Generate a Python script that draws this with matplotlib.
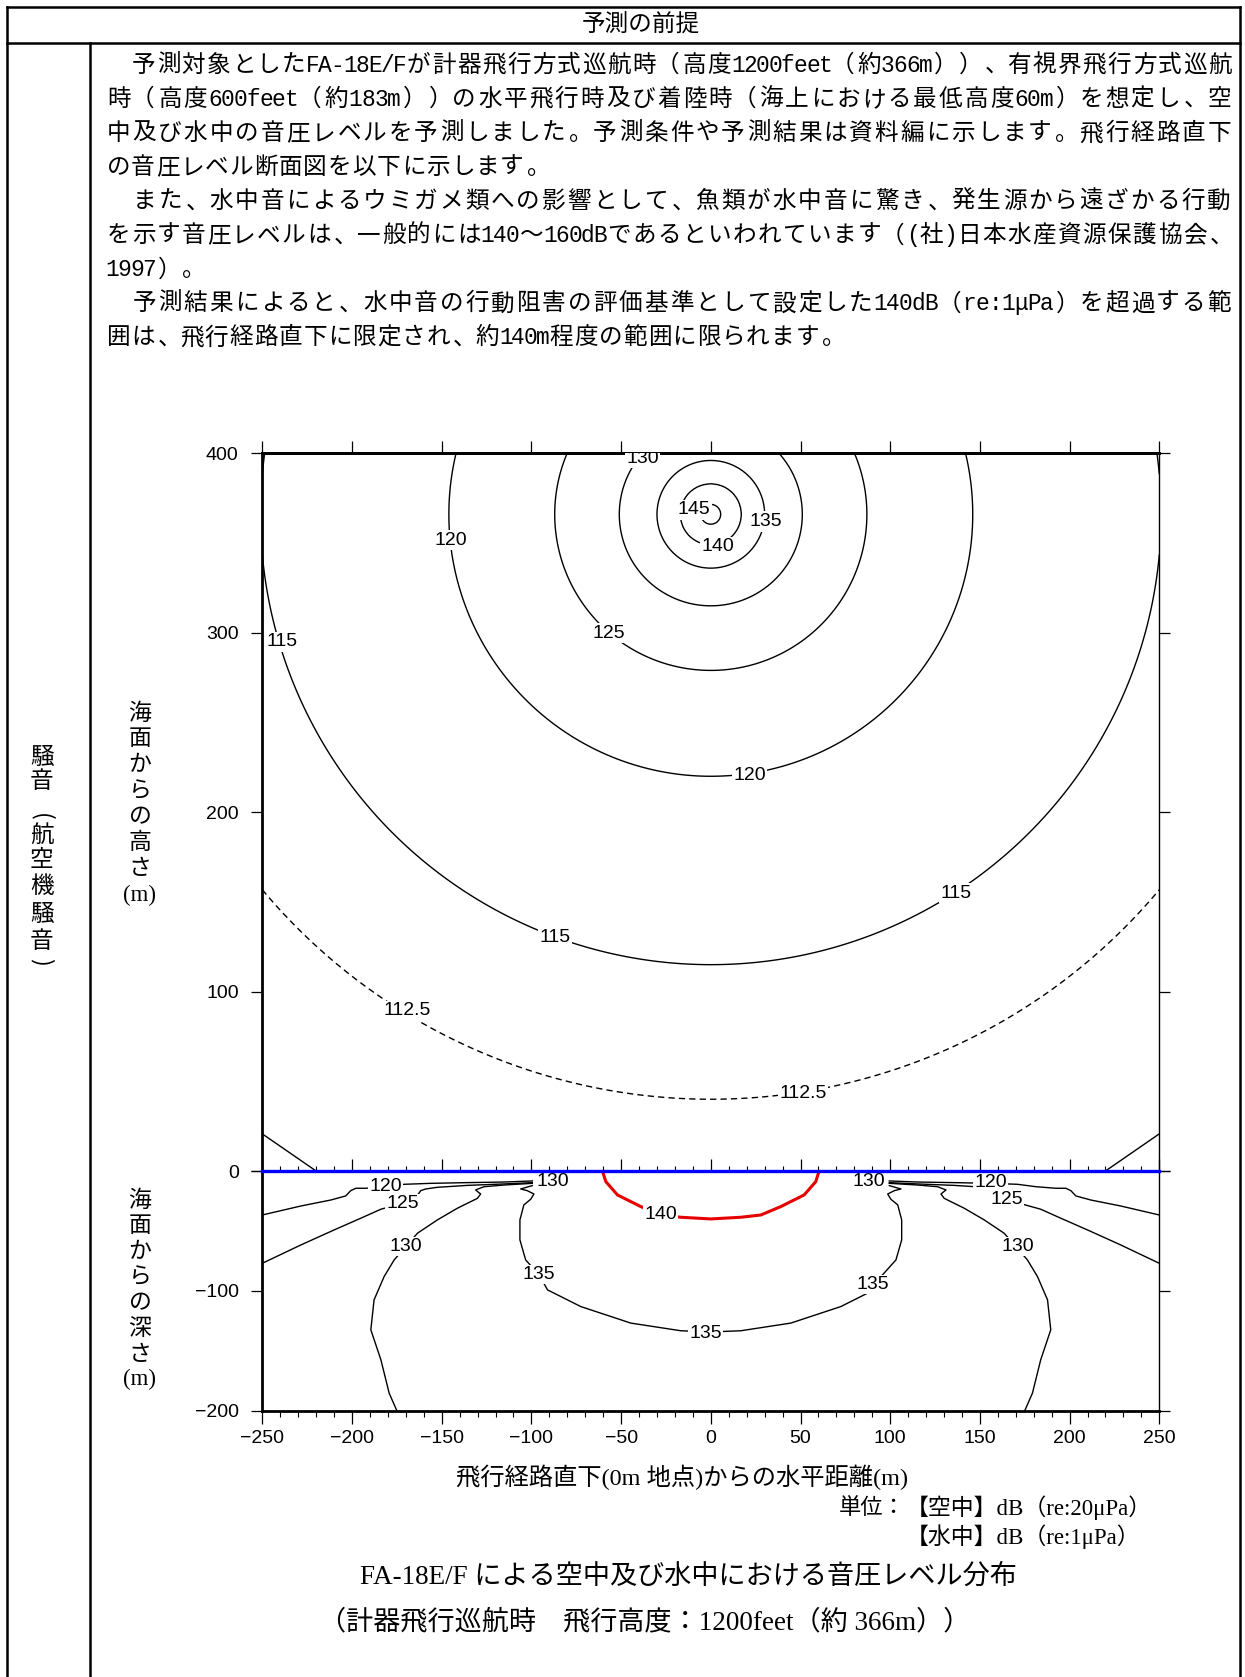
import numpy as np
import matplotlib
matplotlib.use("Agg")
import matplotlib.pyplot as plt
from matplotlib.lines import Line2D
from matplotlib.ticker import MultipleLocator

plt.rcParams['font.family'] = ['Noto Sans CJK JP', 'DejaVu Sans']
plt.rcParams['axes.unicode_minus'] = True

# ---------------- data ----------------
# Air: contour levels (dB re 20uPa) and radius (m) of each circle around the aircraft
air_levels = [112.5, 115, 120, 125, 130, 135, 140, 145]
air_radii = [326, 251, 146, 87, 51, 30, 17, 5.5]
source_x = 0
source_h = 366

air_lab_text = ['130', '145', '135', '140', '125', '120', '120', '115', '115', '115', '112.5', '112.5']
air_lab_x = [-38.1, -9.3, 30.7, 3.7, -56.7, -144.8, 21.6, -238.9, -87.0, 136.7, -169.2, 51.4]
air_lab_y = [397.3, 368.4, 362.0, 348.0, 299.7, 351.6, 220.5, 295.0, 129.9, 154.9, 89.3, 43.4]

# near-surface contour piece in the lower corners of the air section (left half)
air_corner_x = [-250, -220]
air_corner_y = [20.7, 0]

# Water: contour paths (dB re 1uPa), left half; the right half is the mirror image
w120_x = [-250, -228.5, -211.8, -203.5, -200.7, -197.9, -192.3, -181.2, -171.0, -156.1, -135.7, -115.3, -99.5]
w120_y = [-36.7, -29.2, -24.2, -20.8, -16.4, -14.4, -14.4, -13.1, -11.1, -10.3, -9.7, -9.2, -8.3]
w125_x = [-250, -228.5, -210.0, -195.1, -183.9, -171.9, -163.0, -161.7, -158.9, -152.4, -135.7, -115.3, -99.5]
w125_y = [-77.0, -61.7, -49.2, -39.4, -31.9, -26.9, -19.2, -16.4, -15.0, -13.6, -12.0, -10.8, -9.7]
w130_x = [-175.0, -179.3, -183.9, -189.5, -187.7, -182.1, -176.5, -170.0, -163.5, -152.4, -141.3,
          -130.1, -128.3, -131.1, -126.4, -115.3, -99.5]
w130_y = [-200, -185.3, -157.5, -132.5, -107.5, -88.1, -74.2, -63.0, -51.9, -40.8, -31.1,
          -22.8, -19.2, -15.8, -13.1, -11.7, -10.3]
w135_x = [-99.5, -106.0, -102.3, -98.6, -100.4, -104.2, -106.4, -106.4, -103.2, -95.7, -91.0,
          -72.5, -44.6, -16.7, 0]
w135_y = [-12.2, -15.0, -16.4, -19.2, -23.6, -28.3, -40.8, -57.5, -74.2, -86.7, -99.2,
          -113.1, -126.9, -133.3, -134.3]
w140_x = [-60.4, -58.5, -52.0, -39.0, -27.9, -16.7, 0]
w140_y = [0, -8.9, -20.0, -29.7, -36.7, -38.6, -40.0]

water_lab_text = ['120', '125', '130', '130', '135', '140', '135', '130', '120', '125', '130', '135']
water_lab_x = [-181.2, -171.9, -170.0, -88.3, -95.7, -27.9, -3.0, 88.2, 156.0, 165.0, 171.0, 90.1]
water_lab_y = [-13.1, -26.9, -63.0, -8.9, -86.7, -36.7, -135.5, -8.9, -9.5, -24.0, -63.0, -95.0]

x_ticks = [-250, -200, -150, -100, -50, 0, 50, 100, 150, 200, 250]
air_y_ticks = [0, 100, 200, 300, 400]
water_y_ticks = [-200, -100, 0]
water_y_labels = ['\u2212200', '\u2212100', '']

# ---------------- text ----------------
header = "予測の前提"
side_chars = ['騒', '音', '(', '航', '空', '機', '騒', '音', ')']
body_lines = [
    "　予測対象としたFA-18E/Fが計器飛行方式巡航時（高度1200feet（約366m））、有視界飛行方式巡航",
    "時（高度600feet（約183m））の水平飛行時及び着陸時（海上における最低高度60m）を想定し、空",
    "中及び水中の音圧レベルを予測しました。予測条件や予測結果は資料編に示します。飛行経路直下",
    "の音圧レベル断面図を以下に示します。",
    "　また、水中音によるウミガメ類への影響として、魚類が水中音に驚き、発生源から遠ざかる行動",
    "を示す音圧レベルは、一般的には140～160dBであるといわれています（(社)日本水産資源保護協会、",
    "1997）。",
    "　予測結果によると、水中音の行動阻害の評価基準として設定した140dB（re:1μPa）を超過する範",
    "囲は、飛行経路直下に限定され、約140m程度の範囲に限られます。",
]
body_justified = [True, True, True, False, True, True, False, True, False]
air_ylabel = ['海', '面', 'か', 'ら', 'の', '高', 'さ', '(m)']
water_ylabel = ['海', '面', 'か', 'ら', 'の', '深', 'さ', '(m)']
xlabel = "飛行経路直下(0m 地点)からの水平距離(m)"
unit_head = "単位："
unit_lines = ["【空中】dB（re:20μPa）", "【水中】dB（re:1μPa）"]
caption1 = "FA-18E/F による空中及び水中における音圧レベル分布"
caption2 = "（計器飛行巡航時　飛行高度：1200feet（約 366m））"

# ---------------- figure ----------------
W, H = 1245, 1677
fig = plt.figure(figsize=(W / 100, H / 100), dpi=100)
fig.patch.set_facecolor('white')


def fx(px):
    return px / W


def fy(py):
    return 1 - py / H


SERIF_MIX = ['Liberation Serif', 'Noto Sans CJK JP']

# table lines
tbl = dict(color='black', lw=1.8, transform=fig.transFigure)
fig.add_artist(Line2D([fx(6.7), fx(1240)], [fy(6.7), fy(6.7)], **tbl))
fig.add_artist(Line2D([fx(6.7), fx(1240)], [fy(43.3), fy(43.3)], **tbl))
fig.add_artist(Line2D([fx(6.7), fx(6.7)], [fy(6.7), 0], **tbl))
fig.add_artist(Line2D([fx(90), fx(90)], [fy(43.3), 0], **tbl))
fig.add_artist(Line2D([fx(1240), fx(1240)], [fy(6.7), 0], **tbl))

fig.text(fx(641), fy(25), header, ha='center', va='center', fontsize=17)

# body text laid out on a character grid (full-width / half-width cells)
FULL_FONT = dict(family=['Noto Sans CJK JP', 'DejaVu Sans'], fontsize=17.0)
HALF_FONT = dict(family=['Liberation Mono', 'DejaVu Sans Mono'], fontsize=16.5)


def is_half(c):
    return ord(c) < 0x1100


def grid_line(s, y_base, x0, x1=None, unit=24.6):
    widths = [0.5 if is_half(c) else 1.0 for c in s]
    if x1 is not None:
        unit = (x1 - x0) / sum(widths)
    x = x0
    for c, w in zip(s, widths):
        cw = w * unit
        if c in (' ', '\u3000'):
            x += cw
            continue
        if is_half(c):
            fig.text(fx(x + cw / 2), fy(y_base), c, ha='center', va='baseline', **HALF_FONT)
        elif c in '、。':
            fig.text(fx(x + 0.1 * cw), fy(y_base), c, ha='left', va='baseline', **FULL_FONT)
        elif c in '（【「':
            fig.text(fx(x + 0.9 * cw), fy(y_base), c, ha='right', va='baseline', **FULL_FONT)
        elif c in '）】」':
            fig.text(fx(x + 0.1 * cw), fy(y_base), c, ha='left', va='baseline', **FULL_FONT)
        else:
            fig.text(fx(x + cw / 2), fy(y_base), c, ha='center', va='baseline', **FULL_FONT)
        x += cw


for i, (line, just) in enumerate(zip(body_lines, body_justified)):
    grid_line(line, 63 + 34.05 * i + 9, 106, 1232 if just else None)

side_y = [757, 782, 817, 835, 861, 887, 914, 942, 962]
for ch, yy in zip(side_chars, side_y):
    rot = -90 if ch in '()' else 0
    fig.text(fx(41.7), fy(yy), ch, ha='center', va='center', fontsize=17, rotation=rot)

for i, ch in enumerate(air_ylabel):
    fig.text(fx(140), fy(713 + 26 * i), ch, ha='center', va='center', fontsize=16.5,
             family=SERIF_MIX if ch == '(m)' else None)
for i, ch in enumerate(water_ylabel):
    fig.text(fx(140), fy(1200 + 25.7 * i), ch, ha='center', va='center', fontsize=16.5,
             family=SERIF_MIX if ch == '(m)' else None)

fig.text(fx(682), fy(1477), xlabel, ha='center', va='center', fontsize=17.5, family=SERIF_MIX)
fig.text(fx(906), fy(1508), unit_head, ha='right', va='center', fontsize=16)
fig.text(fx(906), fy(1508), unit_lines[0], ha='left', va='center', fontsize=16.5, family=SERIF_MIX)
fig.text(fx(906), fy(1537), unit_lines[1], ha='left', va='center', fontsize=16.5, family=SERIF_MIX)
fig.text(fx(688), fy(1577), caption1, ha='center', va='center', fontsize=19.5, family=SERIF_MIX)
fig.text(fx(645), fy(1622), caption2, ha='center', va='center', fontsize=19.5, family=SERIF_MIX)

# ---------------- axes ----------------
ax_air = fig.add_axes([fx(262.3), fy(1171), fx(1159.3) - fx(262.3), fy(453.3) - fy(1171)])
ax_w = fig.add_axes([fx(262.3), fy(1410.7), fx(1159.3) - fx(262.3), fy(1171) - fy(1410.7)])

lab_font = dict(family=['Liberation Sans', 'DejaVu Sans'], fontsize=14)

# --- air section: field from the read level/radius pairs ---
gx = np.linspace(-250, 250, 1001)
gy = np.linspace(0, 400, 801)
X, Y = np.meshgrid(gx, gy)
R = np.maximum(np.hypot(X - source_x, Y - source_h), 0.05)
LR = np.log10(R)
lr = np.log10(np.array(air_radii, dtype=float)[::-1])
lv = np.array(air_levels, dtype=float)[::-1]
Z = np.interp(LR, lr, lv)
lo_slope = (lv[1] - lv[0]) / (lr[1] - lr[0])
hi_slope = (lv[-1] - lv[-2]) / (lr[-1] - lr[-2])
Z = np.where(LR < lr[0], lv[0] + lo_slope * (LR - lr[0]), Z)
Z = np.where(LR > lr[-1], lv[-1] + hi_slope * (LR - lr[-1]), Z)

lev_sorted = sorted(air_levels)
styles = [(0, (4.5, 3)) if lv_ == 112.5 else 'solid' for lv_ in lev_sorted]
ax_air.contour(X, Y, Z, levels=lev_sorted, colors='black', linewidths=1.0, linestyles=styles)
ax_air.plot(air_corner_x, air_corner_y, color='black', lw=1.0)
ax_air.plot([-v for v in air_corner_x], air_corner_y, color='black', lw=1.0)

for t, x, y in zip(air_lab_text, air_lab_x, air_lab_y):
    ax_air.text(x, y, t, ha='center', va='center', zorder=5, clip_on=True,
                bbox=dict(boxstyle='square,pad=0.08', fc='white', ec='none'), **lab_font)

ax_air.set_xlim(-250, 250)
ax_air.set_ylim(0, 400)
ax_air.xaxis.set_major_locator(MultipleLocator(50))
ax_air.xaxis.set_minor_locator(MultipleLocator(10))
ax_air.tick_params(axis='x', which='major', direction='in', length=8.5, width=0.9,
                   bottom=True, top=False, labelbottom=False, labeltop=False)
ax_air.tick_params(axis='x', which='minor', direction='in', length=3.8, width=0.8,
                   bottom=True, top=False)
ax_air.set_yticks(air_y_ticks)
ax_air.tick_params(axis='y', direction='out', length=8, width=0.9, pad=9,
                   left=True, right=True, labelleft=True, labelright=False)
for lab in ax_air.get_yticklabels():
    lab.set_fontfamily('Liberation Sans')
    lab.set_fontsize(14)
top = ax_air.secondary_xaxis('top')
top.xaxis.set_major_locator(MultipleLocator(50))
top.tick_params(axis='x', direction='out', length=8.5, width=0.9, labeltop=False)
top.spines['top'].set_linewidth(2.0)
ax_air.spines['top'].set_linewidth(2.0)
ax_air.spines['left'].set_linewidth(2.0)
ax_air.spines['right'].set_linewidth(1.0)
ax_air.spines['bottom'].set_visible(False)

# --- water section: contour paths ---
lw_w = 1.0


def mirror(xs, ys):
    return [-v for v in xs[::-1]], ys[::-1]


for xs, ys in [(w120_x, w120_y), (w125_x, w125_y), (w130_x, w130_y)]:
    ax_w.plot(xs, ys, color='black', lw=lw_w)
    mx, my = mirror(xs, ys)
    ax_w.plot(mx, my, color='black', lw=lw_w)

mx, my = mirror(w135_x, w135_y)
ax_w.plot(w135_x + mx[1:], w135_y + my[1:], color='black', lw=lw_w)
mx, my = mirror(w140_x, w140_y)
ax_w.plot(w140_x + mx[1:], w140_y + my[1:], color='#e60000', lw=2.2)

for t, x, y in zip(water_lab_text, water_lab_x, water_lab_y):
    ax_w.text(x, y, t, ha='center', va='center', zorder=5, clip_on=True,
              bbox=dict(boxstyle='square,pad=0.05', fc='white', ec='none'), **lab_font)

ax_w.axhline(0, color='#0000ff', lw=2.4, zorder=6, clip_on=False)

ax_w.set_xlim(-250, 250)
ax_w.set_ylim(-200, 0)
ax_w.set_xticks(x_ticks)
ax_w.xaxis.set_minor_locator(MultipleLocator(10))
ax_w.tick_params(axis='x', which='major', direction='out', length=9, width=0.9, pad=5,
                 bottom=True, top=False)
ax_w.tick_params(axis='x', which='minor', direction='out', length=4.3, width=0.8,
                 bottom=True, top=False)
ax_w.set_yticks(water_y_ticks)
ax_w.set_yticklabels(water_y_labels)
ax_w.tick_params(axis='y', direction='out', length=8, width=0.9, pad=9,
                 left=True, right=True, labelleft=True, labelright=False)
for lab in ax_w.get_xticklabels() + ax_w.get_yticklabels():
    lab.set_fontfamily('Liberation Sans')
    lab.set_fontsize(14)
ax_w.spines['top'].set_visible(False)
ax_w.spines['left'].set_linewidth(2.0)
ax_w.spines['bottom'].set_linewidth(2.0)
ax_w.spines['right'].set_linewidth(1.0)

fig.savefig('out.png', dpi=100, facecolor='white')
